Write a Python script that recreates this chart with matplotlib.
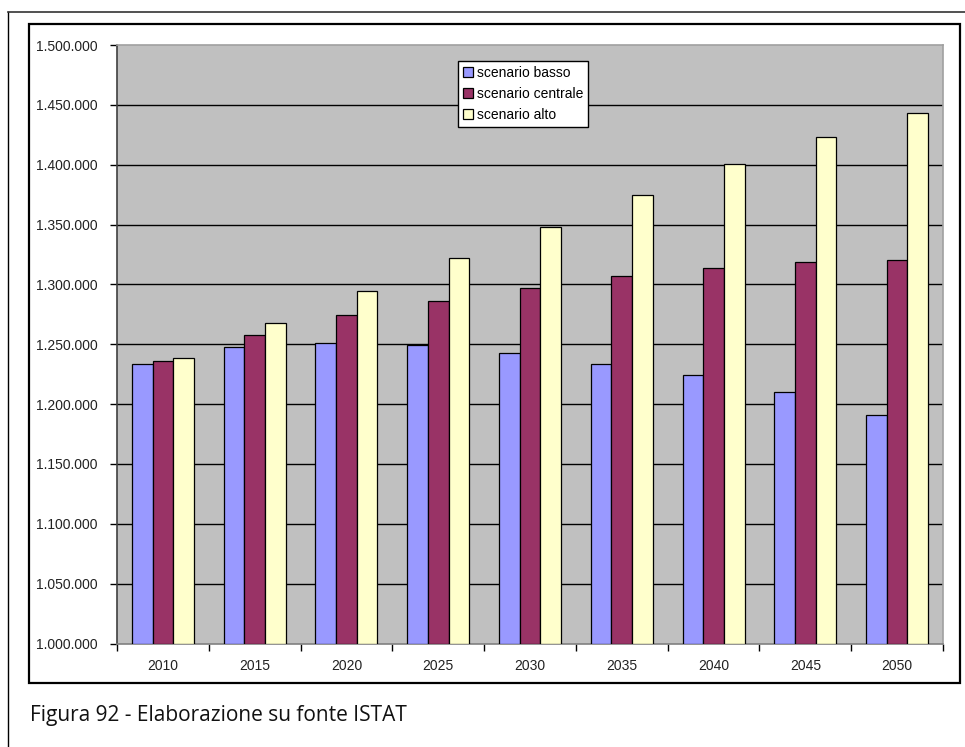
import numpy as np
import matplotlib
matplotlib.use('Agg')
import matplotlib.pyplot as plt
from matplotlib.patches import Rectangle
from matplotlib.lines import Line2D
from matplotlib.ticker import FuncFormatter

years = ['2010', '2015', '2020', '2025', '2030', '2035', '2040', '2045', '2050']
basso = [1233900, 1247800, 1251400, 1249400, 1242500, 1233900, 1224300, 1209700, 1190800]
centrale = [1236100, 1257800, 1274200, 1286100, 1297200, 1306700, 1313300, 1318900, 1320000]
alto = [1238300, 1267800, 1294700, 1321900, 1348000, 1375000, 1400500, 1423300, 1443000]
labels = ['scenario basso', 'scenario centrale', 'scenario alto']
colors = ['#9999FF', '#993366', '#FFFFCC']

W, H = 965, 747
fig = plt.figure(figsize=(W / 100, H / 100), dpi=100)
fig.patch.set_facecolor('white')

# plot area in pixels: x 117..943, y 45..643
ax = fig.add_axes([117 / W, 1 - 643.5 / H, (943 - 117) / W, (643.5 - 45) / H])
ax.set_facecolor('#C0C0C0')

x = np.arange(len(years))
bw = 0.225
for i, (vals, c) in enumerate(zip([basso, centrale, alto], colors)):
    ax.bar(x + (i - 1) * bw, np.array(vals) - 1000000, bw, bottom=1000000,
           color=c, edgecolor='black', linewidth=0.9, zorder=3, label=labels[i])

ax.set_xlim(-0.5, len(years) - 0.5)
ax.set_ylim(1000000, 1500000)
ax.set_yticks(np.arange(1000000, 1500001, 50000))
ax.yaxis.set_major_formatter(FuncFormatter(lambda v, p: f'{int(v):,}'.replace(',', '.')))
for v in np.arange(1050000, 1500000, 50000):
    ax.axhline(v, color='black', linewidth=1.0, zorder=1)

ax.set_xticks(x)
ax.set_xticklabels(years)
ax.set_xticks(np.arange(-0.5, len(years), 1), minor=True)
ax.tick_params(axis='x', which='major', length=0, pad=11, labelsize=10, labelcolor='#222222')
ax.tick_params(axis='x', which='minor', length=5, direction='out', color='black', width=1)
ax.tick_params(axis='y', length=5, direction='out', pad=9, labelsize=10, labelcolor='#222222', width=1)
for lab in ax.get_xticklabels() + ax.get_yticklabels():
    lab.set_fontfamily('Liberation Sans')

ax.spines['left'].set_color('#404040')
ax.spines['bottom'].set_color('#808080')
ax.spines['top'].set_color('#A0A0A0')
ax.spines['right'].set_color('#A0A0A0')
for s in ax.spines.values():
    s.set_linewidth(1.2)

leg = ax.legend(loc='upper left', bbox_to_anchor=(458 / W, 1 - 61 / H), bbox_transform=fig.transFigure,
                borderaxespad=0, frameon=True, fancybox=False, framealpha=1, edgecolor='black',
                prop={'family': 'Liberation Sans', 'size': 10}, handlelength=0.7, handleheight=0.7,
                handletextpad=0.3, labelspacing=0.5, borderpad=0.35)
leg.get_frame().set_linewidth(1.0)

# frames around chart
fig.add_artist(Rectangle((29 / W, 1 - 683 / H), (960 - 29) / W, (683 - 24) / H, transform=fig.transFigure,
                         fill=False, edgecolor='black', linewidth=1.6))
fig.add_artist(Line2D([8 / W, 8 / W], [0, 1 - 12 / H], transform=fig.transFigure, color='black', linewidth=1.0))
fig.add_artist(Line2D([8 / W, 1], [1 - 12 / H, 1 - 12 / H], transform=fig.transFigure, color='#333333', linewidth=1.2))

fig.text(30 / W, 1 - 716 / H, 'Figura 92 - Elaborazione su fonte ISTAT', fontsize=15,
         family='Open Sans', va='center', ha='left', color='#111111')

fig.savefig('out.png', dpi=100)
